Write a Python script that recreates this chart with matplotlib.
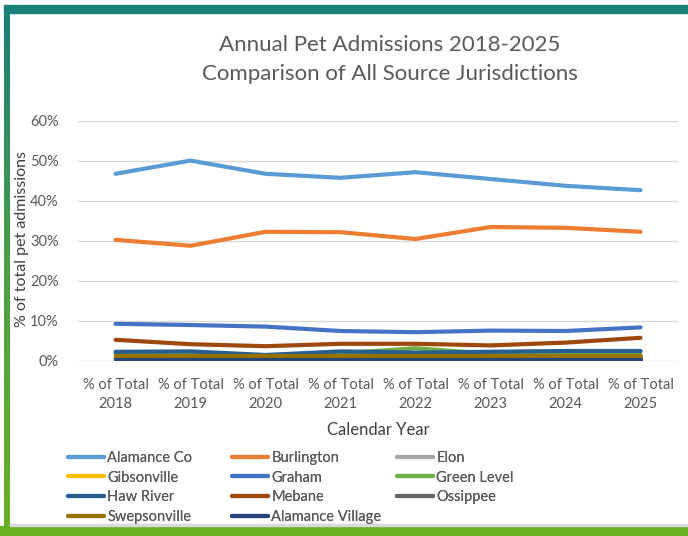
import numpy as np
import matplotlib
matplotlib.use("Agg")
import matplotlib.pyplot as plt
from matplotlib.patches import Rectangle
from matplotlib.colors import LinearSegmentedColormap

plt.rcParams['font.family'] = ['Lato', 'DejaVu Sans']

years = ['2018', '2019', '2020', '2021', '2022', '2023', '2024', '2025']
tick_labels = ['% of Total\n' + y for y in years]

names = ['Alamance Co', 'Burlington', 'Elon', 'Gibsonville', 'Graham', 'Green Level',
         'Haw River', 'Mebane', 'Ossippee', 'Swepsonville', 'Alamance Village']
colors = ['#5B9BD5', '#ED7D31', '#A5A5A5', '#FFC000', '#4472C4', '#70AD47',
          '#255E91', '#9E480E', '#636363', '#997300', '#264478']

# share of total pet admissions (%)
alamance_co = [46.8, 50.1, 46.8, 45.8, 47.2, 45.5, 43.8, 42.7]
burlington = [30.3, 28.8, 32.3, 32.2, 30.5, 33.5, 33.3, 32.3]
elon = [0.6, 0.6, 0.5, 0.6, 0.6, 0.5, 0.6, 0.6]
gibsonville = [1.0, 1.0, 0.9, 1.0, 1.0, 0.9, 1.0, 1.0]
graham = [9.3, 9.0, 8.6, 7.5, 7.2, 7.6, 7.5, 8.4]
green_level = [1.8, 1.9, 1.3, 1.9, 3.2, 1.8, 2.2, 2.2]
haw_river = [2.3, 2.4, 1.5, 2.4, 2.1, 2.3, 2.5, 2.5]
mebane = [5.3, 4.2, 3.7, 4.3, 4.3, 3.9, 4.6, 5.8]
ossippee = [0.4, 0.4, 0.4, 0.4, 0.4, 0.4, 0.4, 0.4]
swepsonville = [1.2, 1.2, 1.2, 1.2, 1.2, 1.2, 1.2, 1.2]
alamance_village = [0.3, 0.3, 0.3, 0.3, 0.3, 0.3, 0.3, 0.3]

series = [alamance_co, burlington, elon, gibsonville, graham, green_level,
          haw_river, mebane, ossippee, swepsonville, alamance_village]

fig = plt.figure(figsize=(6.88, 5.36), dpi=100)
W, H = 688, 536

# frame bars
fig.patches.append(Rectangle((4 / W, 1 - 13 / H), 1, 8 / H, transform=fig.transFigure,
                             color='#1B7F79', zorder=0))
grad = np.linspace(0, 1, 200).reshape(-1, 1)
cm = LinearSegmentedColormap.from_list('frame', ['#1B7F79', '#4CA045', '#6AB023'])
bar_ax = fig.add_axes([4 / W, 0, 6 / W, 1 - 5 / H])
bar_ax.imshow(grad, aspect='auto', cmap=cm, extent=[0, 1, 0, 1])
bar_ax.axis('off')
fig.patches.append(Rectangle((0, 0), 1, 10 / H, transform=fig.transFigure,
                             color='#6AB023', zorder=0))
fig.patches.append(Rectangle((10 / W, 10 / H), 1, 2 / H, transform=fig.transFigure,
                             color='#D9D9D9', zorder=0))

ax = fig.add_axes([78 / W, 175 / H, 600 / W, 240 / H])
x = np.arange(len(years))
handles = []
for name, vals, c in zip(names, series, colors):
    h, = ax.plot(x, np.array(vals) / 100, color=c, lw=3.0,
                 solid_capstyle='round', solid_joinstyle='round', label=name)
    handles.append(h)

ax.set_xlim(-0.5, len(years) - 0.5)
ax.set_ylim(0, 0.6)
ax.set_yticks(np.arange(0, 0.61, 0.1))
ax.set_yticklabels(['%d%%' % v for v in range(0, 61, 10)])
ax.set_xticks(x)
ax.set_xticklabels(tick_labels, linespacing=1.5)
ax.grid(axis='y', color='#D9D9D9', lw=1)
ax.set_axisbelow(True)
for s in ax.spines.values():
    s.set_visible(False)
ax.tick_params(length=0, colors='#595959', labelsize=10.5)
ax.tick_params(axis='x', pad=12)
ax.tick_params(axis='y', pad=14)

ax.set_ylabel('% of total pet admissions', fontsize=11.5, color='#404040', va='center')
ax.yaxis.set_label_coords(-0.093, 0.51)
ax.set_xlabel('Calendar Year', fontsize=12, color='#404040', labelpad=8)

fig.text(390 / W, 1 - 45 / H, 'Annual Pet Admissions 2018-2025',
         ha='center', va='center', fontsize=16, color='#595959')
fig.text(390 / W, 1 - 74 / H, 'Comparison of All Source Jurisdictions',
         ha='center', va='center', fontsize=16, color='#595959')

# legend: Excel lays it out row by row in three fixed-width columns
col_x = [68, 232, 397]
for j in range(3):
    idx = list(range(j, len(names), 3))
    leg = fig.legend([handles[i] for i in idx], [names[i] for i in idx],
                     loc='upper left', bbox_to_anchor=(col_x[j] / W, 1 - 451 / H),
                     frameon=False, fontsize=10.5, handlelength=2.5, handletextpad=0.2,
                     labelspacing=0.38, borderpad=0, borderaxespad=0,
                     labelcolor='#595959')
    fig.add_artist(leg)

fig.savefig('out.png', dpi=100)
